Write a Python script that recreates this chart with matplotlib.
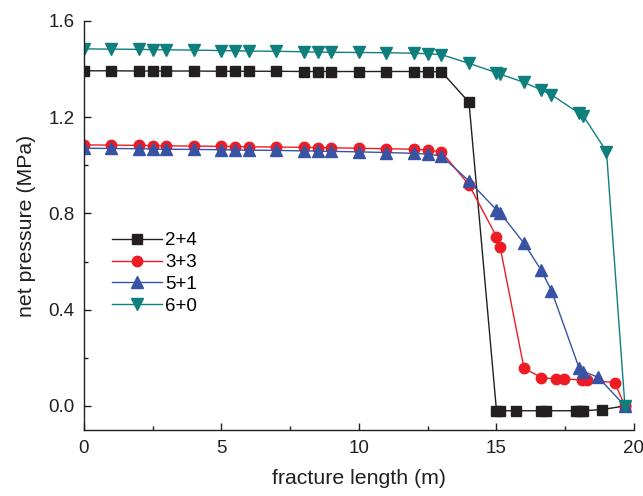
import matplotlib.pyplot as plt
from matplotlib.ticker import MultipleLocator, FormatStrFormatter

plt.rcParams['font.family'] = ['Liberation Sans', 'DejaVu Sans']

# ------------------ DATA ------------------
grid = [0, 1, 2, 2.5, 3, 4, 5, 5.5, 6, 7, 8, 8.5, 9, 10, 11, 12, 12.5, 13]

x_24 = grid + [14, 15, 15.13, 15.7, 16.63, 16.8, 17.9, 18.04, 18.16, 18.85, 19.67]
p_24 = [1.393, 1.393, 1.392, 1.392, 1.392, 1.392, 1.391, 1.391, 1.391, 1.391,
        1.390, 1.390, 1.390, 1.390, 1.390, 1.390, 1.389, 1.389,
        1.262, -0.02, -0.02, -0.02, -0.02, -0.02, -0.02, -0.02, -0.02, -0.015, 0.0]

x_33 = grid + [14, 15, 15.13, 16, 16.63, 17.18, 17.45, 18.1, 18.28, 19.3, 19.67]
p_33 = [1.085, 1.084, 1.083, 1.082, 1.081, 1.080, 1.079, 1.078, 1.077, 1.076,
        1.075, 1.074, 1.073, 1.071, 1.069, 1.067, 1.063, 1.056,
        0.919, 0.704, 0.662, 0.157, 0.118, 0.112, 0.112, 0.108, 0.108, 0.097, 0.0]

x_51 = grid + [14, 15, 15.13, 16, 16.63, 17, 18, 18.16, 18.7, 19.67]
p_51 = [1.071, 1.070, 1.069, 1.068, 1.067, 1.066, 1.065, 1.064, 1.063, 1.062,
        1.060, 1.059, 1.058, 1.056, 1.053, 1.050, 1.046, 1.039,
        0.935, 0.815, 0.803, 0.676, 0.563, 0.479, 0.159, 0.143, 0.119, 0.0]

x_60 = grid + [14, 15, 15.13, 16, 16.63, 17, 18, 18.16, 19, 19.67]
p_60 = [1.484, 1.483, 1.482, 1.481, 1.480, 1.479, 1.477, 1.476, 1.475, 1.474,
        1.472, 1.471, 1.470, 1.469, 1.468, 1.466, 1.464, 1.460,
        1.424, 1.385, 1.379, 1.345, 1.313, 1.293, 1.217, 1.205, 1.057, 0.0]

# ------------------ PLOT ------------------
fig = plt.figure(figsize=(6.43, 4.96), dpi=100)
ax = fig.add_axes([0.1306, 0.1331, 0.8554, 0.8246])

ax.plot(x_24, p_24, color='#231f20', marker='s', ms=6.5, lw=1.0, label='2+4')
ax.plot(x_33, p_33, color='#ed1c24', marker='o', ms=7.5, lw=1.0, label='3+3')
ax.plot(x_51, p_51, color='#3953a4', marker='^', ms=8, lw=1.0, label='5+1')
ax.plot(x_60, p_60, color='#0f7f7e', marker='v', ms=8, lw=1.0, label='6+0')

ax.set_xlim(0, 20)
ax.set_ylim(-0.1, 1.6)
ax.xaxis.set_major_locator(MultipleLocator(5))
ax.xaxis.set_minor_locator(MultipleLocator(2.5))
ax.yaxis.set_major_locator(MultipleLocator(0.4))
ax.yaxis.set_minor_locator(MultipleLocator(0.2))
ax.yaxis.set_major_formatter(FormatStrFormatter('%.1f'))

for side in ['top', 'right']:
    ax.spines[side].set_visible(False)
for side in ['left', 'bottom']:
    ax.spines[side].set_color('#231f20')
    ax.spines[side].set_linewidth(1.0)

ax.tick_params(which='major', direction='in', length=5, width=1.0,
               labelsize=13.5, colors='#231f20', pad=7)
ax.tick_params(which='minor', direction='in', length=3, width=1.0, colors='#231f20')

ax.set_xlabel('fracture length (m)', fontsize=15.3, color='#231f20', labelpad=9)
ax.set_ylabel('net pressure (MPa)', fontsize=15.3, color='#231f20', labelpad=9)

ax.legend(loc='upper left', bbox_to_anchor=(0.02, 0.525), frameon=False,
          fontsize=13.5, handlelength=2.7, labelspacing=0.25, handletextpad=0.15)

fig.savefig('out.png', dpi=100)
